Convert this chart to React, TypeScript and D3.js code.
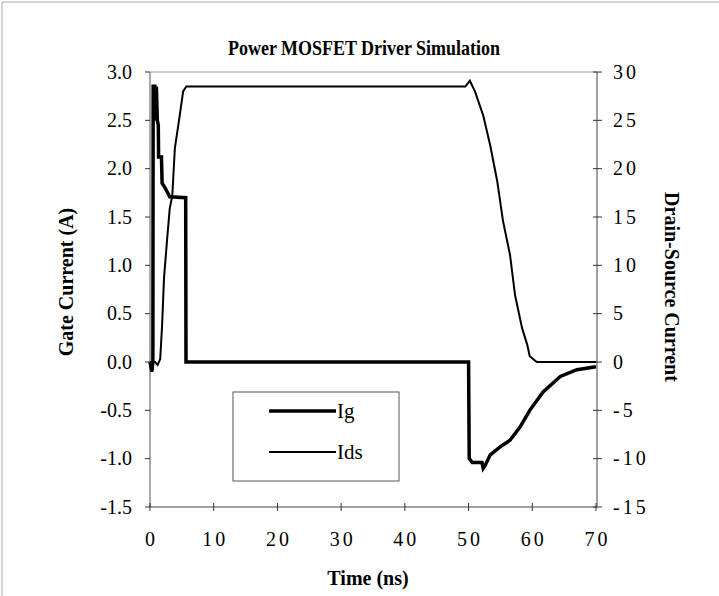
import React, { useRef, useEffect } from "react";
import * as d3 from "d3";

// gate current Ig (A), left axis
const igTime = [0, 0.3, 0.45, 0.5, 0.65, 0.75, 0.9, 1.0, 1.15, 1.3, 1.35, 1.8, 1.9, 2.3, 3.1, 5.6, 5.65, 50.0, 50.1, 50.6, 52.1, 52.3, 52.6, 53.4, 54.9, 56.5, 58.1, 59.6, 61.7, 64.4, 67.0, 70];
const igValue = [0, -0.1, 0, 2.87, 2.5, 2.87, 2.55, 2.85, 2.5, 2.45, 2.12, 2.12, 1.85, 1.81, 1.71, 1.7, 0, 0, -1.0, -1.04, -1.04, -1.1, -1.07, -0.96, -0.88, -0.81, -0.67, -0.5, -0.31, -0.15, -0.08, -0.05];

// drain-source current Ids, right axis
const idsTime = [0, 0.8, 1.2, 1.6, 1.9, 2.2, 2.7, 3.1, 3.5, 3.9, 4.6, 5.2, 5.7, 49.5, 50.2, 51.0, 52.3, 53.4, 54.5, 55.4, 56.5, 57.3, 58.4, 59.2, 59.6, 60.7, 70];
const idsValue = [0, 0, -0.3, 0.3, 3.8, 8.7, 12.8, 15.9, 17.2, 22.1, 25.2, 28.0, 28.5, 28.5, 29.1, 28.0, 25.5, 22.4, 18.7, 14.6, 11.1, 6.9, 3.5, 1.8, 0.6, 0, 0];

const xTicks = [0, 10, 20, 30, 40, 50, 60, 70];
const leftTicks = [-1.5, -1.0, -0.5, 0.0, 0.5, 1.0, 1.5, 2.0, 2.5, 3.0];
const rightTicks = [-15, -10, -5, 0, 5, 10, 15, 20, 25, 30];

const App = () => {
  const ref = useRef<SVGSVGElement>(null);
  const w = 719,
    h = 596;
  const plot = { left: 150, right: 597, top: 72, bottom: 507 };
  const font = "'Liberation Serif', 'Times New Roman', serif";

  useEffect(() => {
    document.body.style.margin = "0";
    const svg = d3.select(ref.current);
    svg.selectAll("*").remove();

    const x = d3.scaleLinear().domain([0, 70]).range([plot.left, plot.right - 1]);
    const yL = d3.scaleLinear().domain([-1.5, 3]).range([plot.bottom, plot.top]);
    const yR = d3.scaleLinear().domain([-15, 30]).range([plot.bottom, plot.top]);

    svg.append("rect").attr("width", w).attr("height", h).attr("fill", "#fff");

    // faint outer chart frame
    svg
      .append("path")
      .attr("d", `M2,${h} V2 H${w}`)
      .attr("fill", "none")
      .attr("stroke", "#aaa")
      .attr("stroke-width", 1);

    // plot area top border
    svg
      .append("line")
      .attr("x1", plot.left)
      .attr("x2", plot.right)
      .attr("y1", plot.top)
      .attr("y2", plot.top)
      .attr("stroke", "#999");

    // left axis
    const gl = svg.append("g");
    gl.append("line")
      .attr("x1", plot.left)
      .attr("x2", plot.left)
      .attr("y1", plot.top)
      .attr("y2", plot.bottom)
      .attr("stroke", "#555");
    leftTicks.forEach((t) => {
      gl.append("line")
        .attr("x1", plot.left - 5)
        .attr("x2", plot.left)
        .attr("y1", yL(t))
        .attr("y2", yL(t))
        .attr("stroke", "#333");
      gl.append("text")
        .attr("x", 132)
        .attr("y", yL(t))
        .attr("dy", "0.34em")
        .attr("text-anchor", "end")
        .attr("font-family", font)
        .attr("font-size", 20)
        .text(d3.format(".1f")(t).replace("−", "-"));
    });

    // right axis
    const gr = svg.append("g");
    gr.append("line")
      .attr("x1", plot.right)
      .attr("x2", plot.right)
      .attr("y1", plot.top)
      .attr("y2", plot.bottom)
      .attr("stroke", "#444");
    rightTicks.forEach((t) => {
      gr.append("line")
        .attr("x1", plot.right - 4)
        .attr("x2", plot.right + 5)
        .attr("y1", yR(t))
        .attr("y2", yR(t))
        .attr("stroke", "#333");
      gr.append("text")
        .attr("x", 613)
        .attr("y", yR(t))
        .attr("dy", "0.34em")
        .attr("font-family", font)
        .attr("font-size", 20)
        .attr("letter-spacing", 3)
        .text(String(t));
    });

    // bottom axis
    const gb = svg.append("g");
    gb.append("line")
      .attr("x1", plot.left)
      .attr("x2", plot.right)
      .attr("y1", plot.bottom)
      .attr("y2", plot.bottom)
      .attr("stroke", "#444");
    xTicks.forEach((t) => {
      gb.append("line")
        .attr("x1", x(t))
        .attr("x2", x(t))
        .attr("y1", plot.bottom - 4)
        .attr("y2", plot.bottom + 4)
        .attr("stroke", "#333");
      gb.append("text")
        .attr("x", x(t) + 1.5)
        .attr("y", 546)
        .attr("text-anchor", "middle")
        .attr("font-family", font)
        .attr("font-size", 20)
        .attr("letter-spacing", 3)
        .text(String(t));
    });

    // series
    const igLine = d3
      .line<number>()
      .x((d, i) => x(igTime[i]))
      .y((d) => yL(d));
    const idsLine = d3
      .line<number>()
      .x((d, i) => x(idsTime[i]))
      .y((d) => yR(d));

    svg
      .append("path")
      .datum(idsValue)
      .attr("fill", "none")
      .attr("stroke", "#000")
      .attr("stroke-width", 2)
      .attr("stroke-linejoin", "miter")
      .attr("d", idsLine);

    svg
      .append("path")
      .datum(igValue)
      .attr("fill", "none")
      .attr("stroke", "#000")
      .attr("stroke-width", 3.5)
      .attr("stroke-linejoin", "miter")
      .attr("d", igLine);

    // titles
    svg
      .append("text")
      .attr("x", 364)
      .attr("y", 55)
      .attr("text-anchor", "middle")
      .attr("font-family", font)
      .attr("font-weight", "bold")
      .attr("font-size", 21)
      .attr("textLength", 272)
      .attr("lengthAdjust", "spacingAndGlyphs")
      .text("Power MOSFET Driver Simulation");

    svg
      .append("text")
      .attr("x", 368)
      .attr("y", 585)
      .attr("text-anchor", "middle")
      .attr("font-family", font)
      .attr("font-weight", "bold")
      .attr("font-size", 20)
      .text("Time (ns)");

    svg
      .append("text")
      .attr("transform", "translate(73,282) rotate(-90)")
      .attr("text-anchor", "middle")
      .attr("font-family", font)
      .attr("font-weight", "bold")
      .attr("font-size", 20)
      .text("Gate Current (A)");

    svg
      .append("text")
      .attr("transform", "translate(665,287) rotate(90)")
      .attr("text-anchor", "middle")
      .attr("font-family", font)
      .attr("font-weight", "bold")
      .attr("font-size", 20)
      .text("Drain-Source Current");

    // legend
    const lg = svg.append("g");
    lg.append("rect")
      .attr("x", 233)
      .attr("y", 392)
      .attr("width", 166)
      .attr("height", 89)
      .attr("fill", "#fff")
      .attr("stroke", "#555");
    const items = [
      { name: "Ig", width: 3.5, y: 411 },
      { name: "Ids", width: 2, y: 452 },
    ];
    items.forEach((it) => {
      lg.append("line")
        .attr("x1", 269)
        .attr("x2", 336)
        .attr("y1", it.y)
        .attr("y2", it.y)
        .attr("stroke", "#000")
        .attr("stroke-width", it.width);
      lg.append("text")
        .attr("x", 337)
        .attr("y", it.y + 7)
        .attr("font-family", font)
        .attr("font-size", 21)
        .text(it.name);
    });
  }, []);

  return <svg ref={ref} width={w} height={h} style={{ display: "block" }}></svg>;
};

export default App;
